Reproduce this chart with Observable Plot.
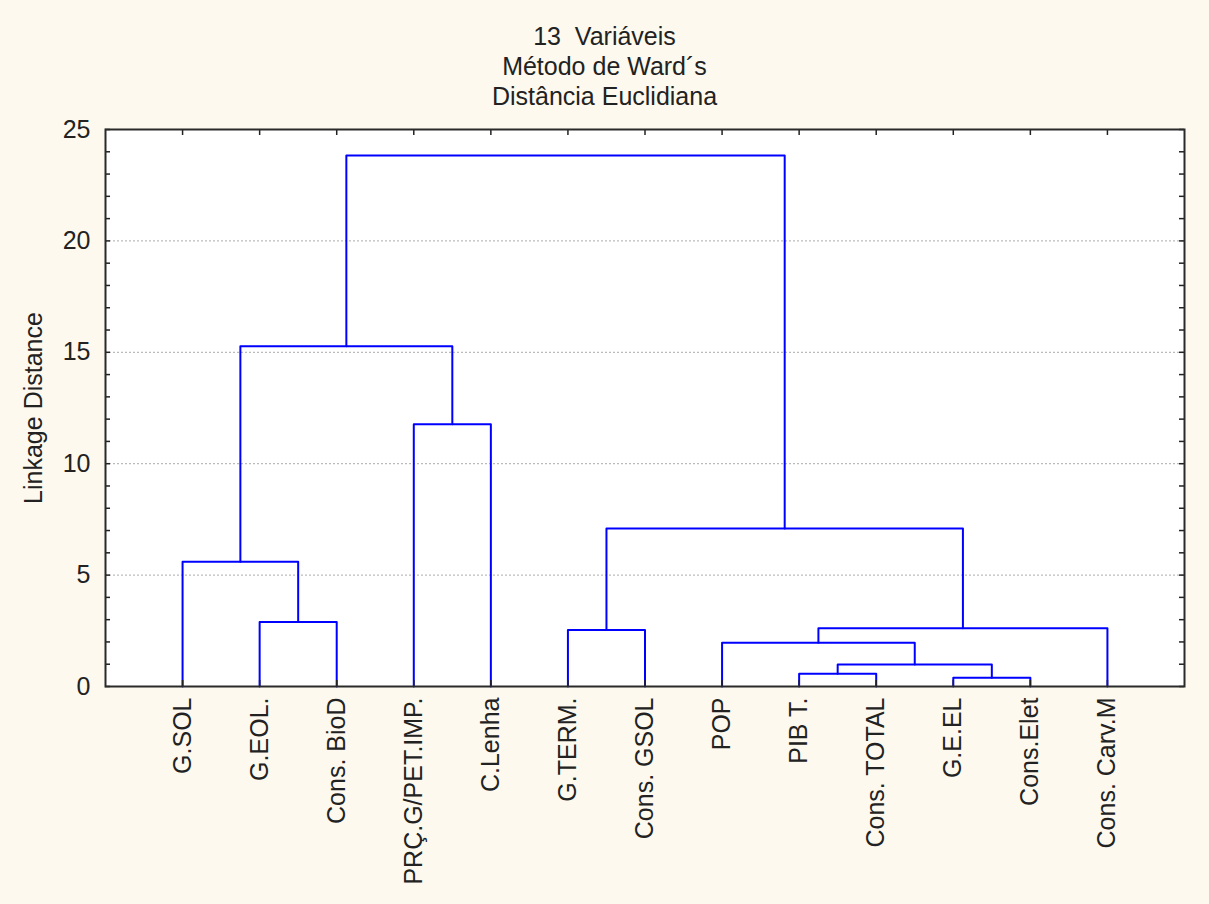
<!DOCTYPE html>
<html>
<head>
<meta charset="utf-8">
<script src="https://cdn.jsdelivr.net/npm/d3@7"></script>
<script src="https://cdn.jsdelivr.net/npm/@observablehq/plot@0.6"></script>
<style>
  html, body { margin: 0; padding: 0; background: #fdf9ee; }
  #wrap { width: 1209px; height: 904px; overflow: hidden; }
  #title {
    height: 115px; box-sizing: border-box; padding-top: 21px;
    text-align: center; white-space: pre;
    font-family: "Liberation Sans", Arial, sans-serif; font-size: 25px; line-height: 30px; color: #222;
  }
  #chart svg { display: block; }
</style>
</head>
<body>
<div id="wrap">
  <div id="title"></div>
  <div id="chart"></div>
</div>
<script>
const titleLines = ["13  Variáveis", "Método de Ward´s", "Distância Euclidiana"];
const yLabel = "Linkage Distance";

// leaves in dendrogram order
const leaves = ["G.SOL", "G.EOL.", "Cons. BioD", "PRÇ.G/PET.IMP.", "C.Lenha", "G.TERM.", "Cons. GSOL",
                "POP", "PIB T.", "Cons. TOTAL", "G.E.EL", "Cons.Elet", "Cons. Carv.M"];

// merges (node ids: 0..12 leaves, 13+ clusters in merge order)
const mergeLeft   = [10, 8, 14, 7, 5, 16, 1, 0, 17, 3, 20, 23];
const mergeRight  = [11, 9, 13, 15, 6, 12, 2, 19, 18, 4, 22, 21];
const mergeHeight = [0.39, 0.57, 0.99, 1.96, 2.54, 2.62, 2.90, 5.60, 7.09, 11.77, 15.27, 23.83];

const yTicks = [0, 5, 10, 15, 20, 25];
const gridTicks = [5, 10, 15, 20];
const minorTicks = d3.range(0, 26);

document.getElementById("title").textContent = titleLines.join("\n");

// build dendrogram path rows
const nodeX = leaves.map((d, i) => i + 1);
const nodeH = leaves.map(() => 0);
const rows = [];
mergeLeft.forEach((l, k) => {
  const r = mergeRight[k], h = mergeHeight[k];
  rows.push({id: k, x: nodeX[l], y: nodeH[l]});
  rows.push({id: k, x: nodeX[l], y: h});
  rows.push({id: k, x: nodeX[r], y: h});
  rows.push({id: k, x: nodeX[r], y: nodeH[r]});
  nodeX.push((nodeX[l] + nodeX[r]) / 2);
  nodeH.push(h);
});

const W = 1209, H = 789, mT = 14, mB = 218, mL = 105, mR = 25;
const plotW = W - mL - mR, plotH = H - mT - mB;
const leafPos = d3.range(1, leaves.length + 1);

const chart = Plot.plot({
  width: W, height: H,
  marginTop: mT, marginBottom: mB, marginLeft: mL, marginRight: mR,
  style: {background: "transparent", fontFamily: "'Liberation Sans', Arial, sans-serif", fontSize: "25px", color: "#222"},
  x: {domain: [0, leaves.length + 1]},
  y: {domain: [0, 25]},
  marks: [
    Plot.frame({fill: "white", stroke: null}),
    Plot.ruleY(gridTicks, {stroke: "#aaaaaa", strokeDasharray: "2,2", strokeWidth: 1}),
    Plot.line(rows, {x: "x", y: "y", z: "id", stroke: "#0000ff", strokeWidth: 2, curve: "linear"}),
    // inward minor ticks on left & right
    Plot.tickY(minorTicks, {y: d => d, insetRight: plotW - 5, stroke: "#222", strokeWidth: 1.5}),
    Plot.tickY(minorTicks, {y: d => d, insetLeft: plotW - 5, stroke: "#222", strokeWidth: 1.5}),
    // inward ticks at leaves on top & bottom
    Plot.tickX(leafPos, {x: d => d, insetBottom: plotH - 6, stroke: "#222", strokeWidth: 1.5}),
    Plot.tickX(leafPos, {x: d => d, insetTop: plotH - 6, stroke: "#222", strokeWidth: 1.5}),
    Plot.frame({stroke: "#2a2a2a", strokeWidth: 2}),
    Plot.axisY({ticks: yTicks, tickSize: 0, tickPadding: 15, fontSize: 25, label: null}),
    Plot.axisX({ticks: leafPos, tickFormat: i => leaves[i - 1], tickRotate: -90, tickSize: 0, tickPadding: 11, fontSize: 25, label: null}),
    Plot.text([yLabel], {text: d => d, frameAnchor: "left", textAnchor: "middle", dx: -72, rotate: -90, fontSize: 25, fill: "#222"})
  ]
});
document.getElementById("chart").appendChild(chart);
</script>
</body>
</html>
